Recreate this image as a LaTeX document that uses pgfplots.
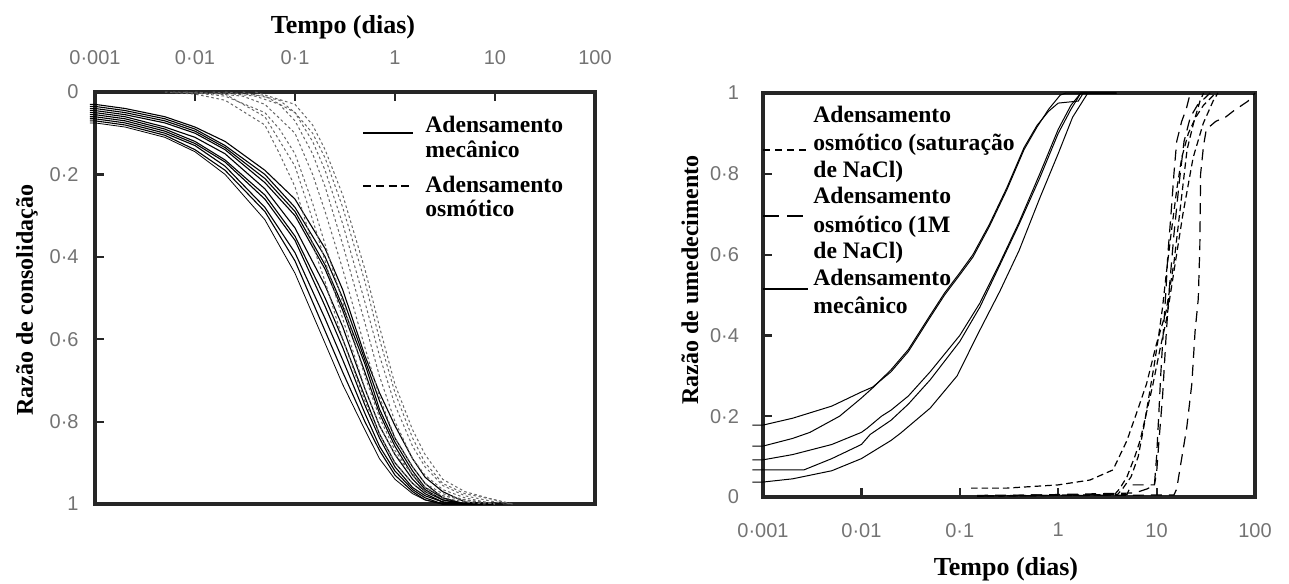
\documentclass[border=0pt]{standalone}
\usepackage{fontspec}
\setmainfont{Liberation Serif}
\newfontfamily\arial{Liberation Sans}
\usepackage{pgfplots}
\pgfplotsset{compat=1.18}
\tikzset{
  mech/.style={black, line width=0.55pt},
  osmL/.style={black!60, line width=0.5pt, dash pattern=on 1.3pt off 1.3pt},
  sat/.style={black, line width=0.6pt, dash pattern=on 3.3pt off 2pt},
  onem/.style={black, line width=0.6pt, dash pattern=on 5.5pt off 3.5pt},
}
\begin{document}
\begin{tikzpicture}
\useasboundingbox (0pt,0pt) rectangle (644.5pt,-291.5pt);
% ---------------- left chart ----------------
\begin{axis}[at={(47.5pt,-252pt)}, anchor=south west, scale only axis, width=250pt, height=206pt,
  xmode=log, xmin=0.001, xmax=100, ymin=0, ymax=1, y dir=reverse,
  clip=false, xminorticks=false, yminorticks=false,
  axis line style={line width=1.6pt, black!85},
  tick align=inside, major tick length=4.5pt,
  tick style={line width=1.1pt, black!85},
  tick label style={font=\arial\fontsize{10}{12}\selectfont, text=black!55, inner sep=0pt},
  xtick={0.001,0.01,0.1,1,10,100},
  xticklabels={\mbox{0·001},\mbox{0·01},\mbox{0·1},\mbox{1},\mbox{10},\mbox{100}},
  ytick={0,0.2,0.4,0.6,0.8,1},
  yticklabels={\mbox{0},\mbox{0·2},\mbox{0·4},\mbox{0·6},\mbox{0·8},\mbox{1}},
  ytick pos=left, yticklabel pos=left,
  xtick pos=right, xticklabel pos=right,
  xticklabel style={anchor=south, yshift=13.4pt},
  yticklabel style={anchor=east, xshift=-8pt}]
% mechanical (solid)
\addplot[mech] coordinates {(0.00089,0.03)(0.001,0.03)(0.002,0.04)(0.005,0.06)(0.01,0.085)(0.02,0.12)(0.05,0.19)(0.1,0.26)(0.2,0.38)(0.3,0.48)(0.5,0.64)(0.7,0.73)(1,0.81)(1.5,0.89)(2,0.935)(3,0.97)(5,0.995)(10,1)};
\addplot[mech] coordinates {(0.00089,0.035)(0.001,0.035)(0.002,0.045)(0.005,0.065)(0.01,0.09)(0.02,0.13)(0.05,0.20)(0.1,0.28)(0.2,0.40)(0.3,0.50)(0.5,0.65)(0.7,0.75)(1,0.84)(1.5,0.91)(2,0.95)(3,0.985)(5,1)(12,1)};
\addplot[mech] coordinates {(0.00089,0.04)(0.001,0.04)(0.002,0.05)(0.005,0.07)(0.01,0.095)(0.02,0.135)(0.05,0.21)(0.1,0.29)(0.2,0.42)(0.3,0.52)(0.5,0.66)(0.7,0.77)(1,0.85)(1.5,0.92)(2,0.96)(3,0.985)(5,1)(10,1)};
\addplot[mech] coordinates {(0.00089,0.045)(0.001,0.045)(0.002,0.055)(0.005,0.075)(0.01,0.10)(0.02,0.14)(0.05,0.22)(0.1,0.30)(0.2,0.43)(0.3,0.53)(0.5,0.68)(0.7,0.78)(1,0.86)(1.5,0.93)(2,0.965)(3,0.99)(5,1)(8,1)};
\addplot[mech] coordinates {(0.00089,0.05)(0.001,0.05)(0.002,0.06)(0.005,0.085)(0.01,0.11)(0.02,0.15)(0.05,0.235)(0.1,0.33)(0.2,0.47)(0.3,0.57)(0.5,0.72)(0.7,0.81)(1,0.88)(1.5,0.94)(2,0.97)(3,0.99)(5,1)(9,1)};
\addplot[mech] coordinates {(0.00089,0.055)(0.001,0.055)(0.002,0.065)(0.005,0.09)(0.01,0.12)(0.02,0.165)(0.05,0.25)(0.1,0.35)(0.2,0.50)(0.3,0.60)(0.5,0.74)(0.7,0.83)(1,0.90)(1.5,0.95)(2,0.975)(3,0.995)(5,1)(10,1)};
\addplot[mech] coordinates {(0.00089,0.06)(0.001,0.06)(0.002,0.07)(0.005,0.095)(0.01,0.125)(0.02,0.17)(0.05,0.26)(0.1,0.36)(0.2,0.52)(0.3,0.62)(0.5,0.76)(0.7,0.84)(1,0.91)(1.5,0.96)(2,0.98)(3,0.995)(5,1)(8,1)};
\addplot[mech] coordinates {(0.00089,0.065)(0.001,0.065)(0.002,0.075)(0.005,0.10)(0.01,0.13)(0.02,0.18)(0.05,0.28)(0.1,0.39)(0.2,0.55)(0.3,0.65)(0.5,0.78)(0.7,0.86)(1,0.92)(1.5,0.965)(2,0.985)(3,1)(6,1)};
\addplot[mech] coordinates {(0.00089,0.07)(0.001,0.07)(0.002,0.08)(0.005,0.105)(0.01,0.14)(0.02,0.19)(0.05,0.29)(0.1,0.41)(0.2,0.58)(0.3,0.68)(0.5,0.80)(0.7,0.87)(1,0.93)(1.5,0.97)(2,0.99)(3,1)(6,1)};
\addplot[mech, line width=0.4pt] coordinates {(0.00089,0.075)(0.001,0.075)(0.002,0.085)(0.005,0.11)(0.01,0.145)(0.02,0.20)(0.05,0.31)(0.1,0.44)(0.2,0.61)(0.3,0.71)(0.5,0.82)(0.7,0.89)(1,0.94)(1.5,0.975)(2,0.99)(3,1)(5,1)};
% osmotic (dotted)
\addplot[osmL] coordinates {(0.005,0)(0.01,0.005)(0.02,0.02)(0.05,0.08)(0.07,0.15)(0.1,0.23)(0.15,0.37)(0.2,0.46)(0.3,0.6)(0.5,0.75)(0.7,0.83)(1,0.9)(1.5,0.95)(2,0.97)(3,0.985)(5,0.995)(8,1)};
\addplot[osmL] coordinates {(0.008,0)(0.02,0.01)(0.05,0.05)(0.07,0.09)(0.1,0.15)(0.15,0.27)(0.2,0.37)(0.3,0.51)(0.5,0.69)(0.7,0.79)(1,0.87)(1.5,0.93)(2,0.96)(3,0.98)(5,0.99)(10,1)};
\addplot[osmL] coordinates {(0.01,0)(0.03,0.01)(0.05,0.03)(0.1,0.1)(0.15,0.2)(0.2,0.29)(0.3,0.43)(0.5,0.62)(0.7,0.74)(1,0.84)(1.5,0.91)(2,0.95)(3,0.975)(5,0.99)(10,1)};
\addplot[osmL] coordinates {(0.015,0)(0.04,0.01)(0.07,0.03)(0.1,0.07)(0.15,0.15)(0.2,0.23)(0.3,0.37)(0.5,0.56)(0.7,0.69)(1,0.8)(1.5,0.89)(2,0.93)(3,0.965)(5,0.985)(10,1)};
\addplot[osmL] coordinates {(0.02,0)(0.05,0.01)(0.1,0.05)(0.15,0.12)(0.2,0.19)(0.3,0.32)(0.5,0.51)(0.7,0.64)(1,0.76)(1.5,0.86)(2,0.91)(3,0.955)(5,0.98)(10,0.995)(15,1)};
\addplot[osmL] coordinates {(0.03,0)(0.07,0.02)(0.1,0.05)(0.15,0.1)(0.2,0.16)(0.3,0.28)(0.5,0.46)(0.7,0.6)(1,0.73)(1.5,0.84)(2,0.9)(3,0.95)(5,0.975)(10,0.99)(15,1)};
\addplot[osmL] coordinates {(0.04,0)(0.1,0.03)(0.15,0.08)(0.2,0.14)(0.3,0.25)(0.5,0.43)(0.7,0.57)(1,0.71)(1.5,0.82)(2,0.88)(3,0.94)(5,0.97)(10,0.99)(15,1)};
\addplot[osmL] coordinates {(0.006,0)(0.02,0.005)(0.05,0.06)(0.1,0.18)(0.15,0.31)(0.2,0.41)(0.3,0.55)(0.5,0.72)(0.7,0.81)(1,0.88)(2,0.96)(3,0.98)(5,0.99)(10,1)};
\end{axis}
% ---------------- right chart ----------------
\begin{axis}[at={(381.5pt,-248.5pt)}, anchor=south west, scale only axis, width=246pt, height=202pt,
  xmode=log, xmin=0.001, xmax=100, ymin=0, ymax=1,
  clip=false, xminorticks=false, yminorticks=false,
  axis line style={line width=1.6pt, black!85},
  tick align=inside, major tick length=4.5pt,
  tick style={line width=1.1pt, black!85},
  tick label style={font=\arial\fontsize{10}{12}\selectfont, text=black!55, inner sep=0pt},
  xtick={0.001,0.01,0.1,1,10,100},
  xticklabels={\mbox{0·001},\mbox{0·01},\mbox{0·1},\mbox{1},\mbox{10},\mbox{100}},
  ytick={0,0.2,0.4,0.6,0.8,1},
  yticklabels={\mbox{0},\mbox{0·2},\mbox{0·4},\mbox{0·6},\mbox{0·8},\mbox{1}},
  ytick pos=left, yticklabel pos=left,
  xtick pos=left, xticklabel pos=left,
  xticklabel style={anchor=north, yshift=-12.9pt},
  yticklabel style={anchor=east, xshift=-11.8pt}]
% mechanical (solid)
\addplot[mech, line width=0.5pt] coordinates {(0.00078,0.178)(0.001,0.178)(0.002,0.195)(0.005,0.225)(0.01,0.26)(0.013,0.272)(0.02,0.31)(0.03,0.36)(0.05,0.445)(0.07,0.50)(0.1,0.55)(0.136,0.594)(0.2,0.67)(0.3,0.76)(0.45,0.86)(0.61,0.916)(0.8,0.96)(1.05,0.995)(1.2,1)(3.9,1)};
\addplot[mech, line width=0.5pt] coordinates {(0.00078,0.126)(0.001,0.126)(0.002,0.145)(0.003,0.16)(0.006,0.20)(0.01,0.245)(0.013,0.27)(0.02,0.315)(0.03,0.365)(0.05,0.45)(0.07,0.505)(0.1,0.555)(0.136,0.60)(0.2,0.675)(0.3,0.765)(0.45,0.865)(0.61,0.92)(0.8,0.955)(1,0.975)(1.6,0.98)(1.8,1)(3.9,1)};
\addplot[mech, line width=0.5pt] coordinates {(0.00078,0.092)(0.001,0.092)(0.002,0.105)(0.005,0.13)(0.01,0.16)(0.0114,0.17)(0.016,0.20)(0.02,0.215)(0.03,0.25)(0.05,0.31)(0.1,0.40)(0.16,0.48)(0.256,0.58)(0.4,0.68)(0.65,0.80)(1,0.91)(1.35,0.97)(1.7,1)(3.9,1)};
\addplot[mech, line width=0.5pt] coordinates {(0.00078,0.067)(0.001,0.067)(0.0026,0.067)(0.005,0.095)(0.01,0.13)(0.0123,0.155)(0.02,0.19)(0.03,0.23)(0.05,0.29)(0.1,0.385)(0.16,0.47)(0.256,0.575)(0.4,0.675)(0.65,0.79)(1,0.90)(1.35,0.96)(1.7,1)(3.9,1)};
\addplot[mech, line width=0.5pt] coordinates {(0.00078,0.037)(0.001,0.037)(0.002,0.045)(0.005,0.065)(0.01,0.095)(0.02,0.14)(0.025,0.158)(0.05,0.22)(0.094,0.30)(0.15,0.40)(0.256,0.51)(0.4,0.61)(0.65,0.74)(1,0.85)(1.4,0.94)(2,1)(3.9,1)};
% osmotic saturated NaCl (short dash)
\addplot[sat] coordinates {(0.13,0.022)(0.3,0.022)(1,0.03)(2.1,0.042)(3.6,0.067)(5,0.14)(6.3,0.21)(7.9,0.28)(10,0.38)(12.5,0.46)(15,0.58)(17.5,0.72)(20.4,0.86)(24,0.93)(27.6,0.98)(30,1)};
\addplot[sat] coordinates {(0.15,0.003)(3.7,0.005)(4.2,0.02)(5,0.05)(6,0.1)(6.8,0.14)(8,0.215)(9.2,0.28)(10.7,0.36)(12.6,0.44)(14.6,0.54)(18.5,0.70)(23.5,0.84)(29.8,0.925)(37.5,0.98)(42,1)};
\addplot[sat] coordinates {(0.15,0.002)(4,0.006)(4.5,0.02)(5.5,0.05)(6.5,0.1)(7.5,0.18)(8.5,0.26)(9.5,0.33)(10.5,0.40)(11.5,0.47)(12.5,0.55)(14,0.65)(16,0.76)(18,0.84)(21,0.9)(25,0.94)(30,0.97)(40,1)};
% osmotic 1M NaCl (long dash)
\addplot[onem] coordinates {(0.15,0.004)(5,0.006)(5.5,0.03)(8,0.03)(9.5,0.03)(10,0.06)(10.5,0.13)(11.5,0.25)(12.5,0.4)(13.5,0.52)(15,0.65)(17,0.78)(19,0.88)(22,0.94)(26,0.97)(35,1)};
\addplot[onem] coordinates {(0.15,0.002)(6,0.01)(8,0.02)(9.5,0.03)(10,0.1)(10.5,0.2)(11,0.3)(11.5,0.38)(12,0.45)(12.5,0.52)(13,0.6)(14,0.7)(15,0.8)(16,0.88)(18,0.93)(20,0.96)(22,1)};
\addplot[onem] coordinates {(0.3,0.003)(15,0.005)(16,0.02)(18.1,0.10)(20.2,0.17)(22.8,0.28)(24.6,0.41)(26.5,0.49)(27.5,0.62)(28,0.80)(30,0.87)(32,0.91)(40,0.93)(50,0.94)(60,0.955)(85,0.98)(100,1)};
\end{axis}
% ---------------- titles ----------------
\begin{scope}[every node/.style={font=\bfseries\fontsize{12}{14}\selectfont, inner sep=0pt}]
\node[anchor=base, font=\bfseries\fontsize{13}{15}\selectfont] at (171.5pt,-17pt) {Tempo (dias)};
\node[rotate=90] at (13.5pt,-150pt) {Razão de consolidação};
\node[anchor=base, font=\bfseries\fontsize{13}{15}\selectfont] at (503pt,-287.5pt) {Tempo (dias)};
\node[rotate=90] at (345pt,-140pt) {Razão de umedecimento};
\end{scope}
% ---------------- legends ----------------
\begin{scope}[every node/.style={font=\bfseries\fontsize{11.8}{13}\selectfont, inner sep=0pt, anchor=base west}]
% left
\draw[black, line width=1.4pt] (181.5pt,-66.5pt) -- (206.5pt,-66.5pt);
\draw[black, line width=1.4pt, dash pattern=on 4pt off 2.4pt] (181.5pt,-93pt) -- (206.5pt,-93pt);
\node at (212.5pt,-66.5pt) {Adensamento};
\node at (212.5pt,-78.5pt) {mecânico};
\node at (212.5pt,-96pt) {Adensamento};
\node at (212.5pt,-108pt) {osmótico};
\fill[white] (210pt,-109.2pt) rectangle (290pt,-114pt);
% right
\draw[black, line width=0.6pt, dash pattern=on 3.5pt off 2.5pt] (381.5pt,-75pt) -- (403.5pt,-75pt);
\draw[black, line width=0.6pt, dash pattern=on 8pt off 4pt] (381.5pt,-108pt) -- (403pt,-108pt);
\draw[black, line width=0.6pt] (381.5pt,-144.5pt) -- (404pt,-144.5pt);
\node at (406.5pt,-61pt) {Adensamento};
\node at (406.5pt,-75pt) {osmótico (saturação};
\node at (406.5pt,-88.5pt) {de NaCl)};
\node at (406.5pt,-101.5pt) {Adensamento};
\node at (406.5pt,-116pt) {osmótico (1M};
\node at (406.5pt,-129pt) {de NaCl)};
\node at (406.5pt,-142.5pt) {Adensamento};
\node at (406.5pt,-156.5pt) {mecânico};
\end{scope}
\end{tikzpicture}
\end{document}
